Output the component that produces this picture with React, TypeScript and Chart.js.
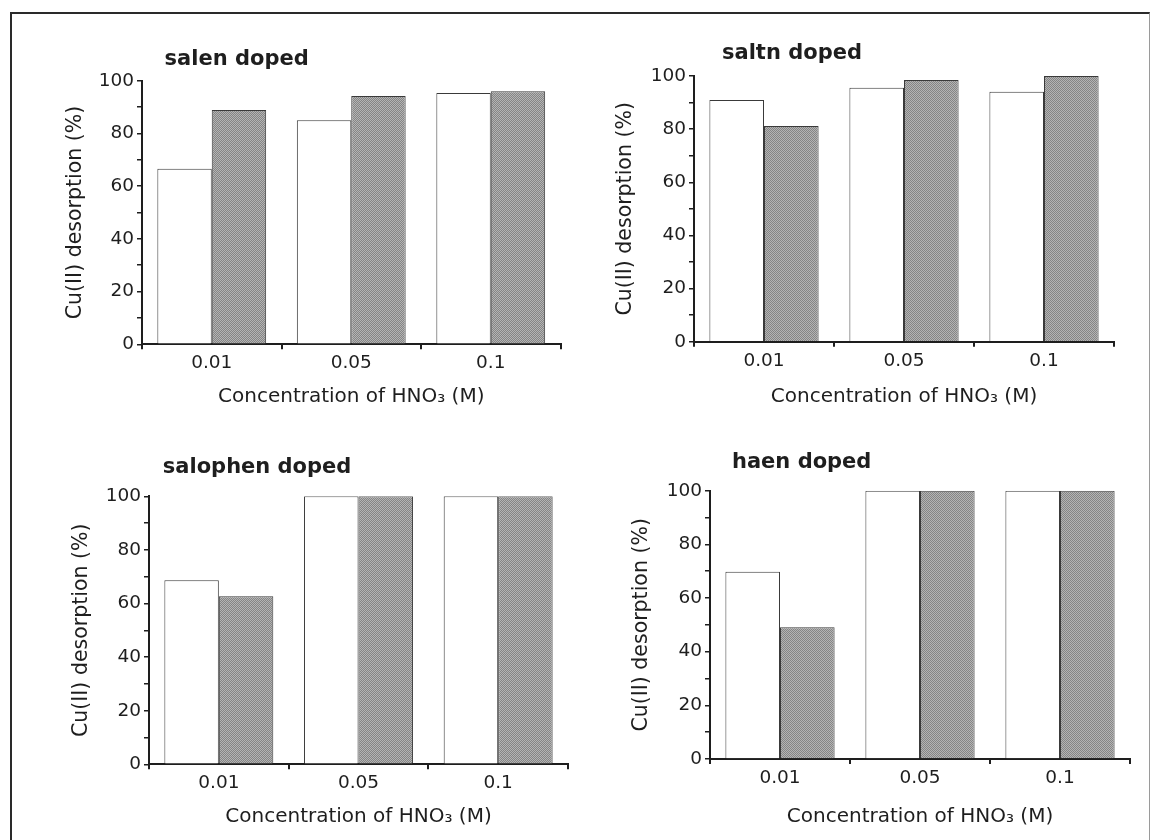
import React, { useEffect, useRef } from "react";
import { Chart, registerables } from "chart.js";

Chart.register(...registerables);

// ---- data ----
const categories = ["0.01", "0.05", "0.1"];

const salenOpen = [66.6, 85.0, 95.3];
const salenShaded = [88.9, 94.2, 96.0];

const saltnOpen = [91.0, 95.6, 94.1];
const saltnShaded = [81.2, 98.5, 100];

const salophenOpen = [68.7, 100, 100];
const salophenShaded = [62.7, 100, 100];

const haenOpen = [69.8, 100, 100];
const haenShaded = [49.1, 100, 100];

const yMin = 0;
const yMax = 100;
const yStep = 10;
const yLabelEvery = 20;

const xAxisTitle = "Concentration of HNO\u2083 (M)";
const yAxisTitle = "Cu(II) desorption (%)";

// ---- layout (absolute page coordinates) ----
type Panel = {
  title: string;
  open: number[];
  shaded: number[];
  box: { x: number; y: number; w: number; h: number };
  area: { l: number; r: number; t: number; b: number };
  yTitleX: number;
  xTitleY: number;
  titleX: number;
  titleBase: number;
};

const panels: Panel[] = [
  {
    title: "salen doped",
    open: salenOpen,
    shaded: salenShaded,
    box: { x: 0, y: 0, w: 577, h: 420 },
    area: { l: 142, r: 560.5, t: 80.7, b: 344.3 },
    yTitleX: 75.8,
    xTitleY: 396.8,
    titleX: 164.6,
    titleBase: 65,
  },
  {
    title: "saltn doped",
    open: saltnOpen,
    shaded: saltnShaded,
    box: { x: 577, y: 0, w: 578, h: 420 },
    area: { l: 694, r: 1114, t: 76, b: 341.7 },
    yTitleX: 626,
    xTitleY: 396.8,
    titleX: 722,
    titleBase: 59.3,
  },
  {
    title: "salophen doped",
    open: salophenOpen,
    shaded: salophenShaded,
    box: { x: 0, y: 420, w: 577, h: 420 },
    area: { l: 149, r: 568, t: 496.3, b: 764.3 },
    yTitleX: 82,
    xTitleY: 816.8,
    titleX: 162.8,
    titleBase: 473.3,
  },
  {
    title: "haen doped",
    open: haenOpen,
    shaded: haenShaded,
    box: { x: 577, y: 420, w: 578, h: 420 },
    area: { l: 710, r: 1130, t: 490.7, b: 759 },
    yTitleX: 641.6,
    xTitleY: 816.8,
    titleX: 732,
    titleBase: 468.3,
  },
];

const FONT = '"DejaVu Sans", Verdana, sans-serif';
const INK = "#1e1e1e";

const panelTitlePlugin = {
  id: "panelTitle",
  afterDraw(chart: any, _args: any, opts: any) {
    const { ctx, chartArea } = chart;
    ctx.save();
    ctx.font = `bold 21px ${FONT}`;
    ctx.fillStyle = INK;
    ctx.textBaseline = "alphabetic";
    ctx.textAlign = "left";
    ctx.fillText(opts.text, chartArea.left + opts.dx, chartArea.top + opts.dy);
    ctx.restore();
  },
};

function makeShadePattern(): CanvasPattern | string {
  const c = document.createElement("canvas");
  c.width = 2;
  c.height = 2;
  const g = c.getContext("2d");
  if (!g) return "#9c9c9c";
  g.fillStyle = "#858585";
  g.fillRect(0, 0, 2, 2);
  g.fillStyle = "#b4b4b4";
  g.fillRect(0, 0, 1, 1);
  g.fillRect(1, 1, 1, 1);
  const p = g.createPattern(c, "repeat");
  return p || "#9c9c9c";
}

function PanelChart({ p }: { p: Panel }) {
  const ref = useRef<HTMLCanvasElement | null>(null);

  useEffect(() => {
    if (!ref.current) return;
    const yTitleLine = 20.5 * 1.2;
    const xTitleLine = 20 * 1.2;
    const yScaleLeft = p.yTitleX - yTitleLine / 2;
    const yScaleWidth = p.area.l - yScaleLeft;
    const xScaleBottom = p.xTitleY + xTitleLine / 2;
    const xScaleHeight = xScaleBottom - p.area.b;

    const shade = makeShadePattern();

    const chart = new Chart(ref.current, {
      type: "bar",
      data: {
        labels: categories,
        datasets: [
          {
            data: p.open,
            backgroundColor: "#ffffff",
            borderColor: "#3a3a3a",
            borderWidth: 1,
            categoryPercentage: 0.78,
            barPercentage: 1,
          },
          {
            data: p.shaded,
            backgroundColor: shade as any,
            borderColor: "#3a3a3a",
            borderWidth: 1,
            categoryPercentage: 0.78,
            barPercentage: 1,
          },
        ],
      },
      options: {
        responsive: false,
        animation: false,
        devicePixelRatio: 1,
        layout: {
          padding: {
            left: yScaleLeft - p.box.x,
            top: p.area.t - p.box.y,
            right: p.box.x + p.box.w - p.area.r,
            bottom: p.box.y + p.box.h - xScaleBottom,
          },
        },
        plugins: {
          legend: { display: false },
          tooltip: { enabled: false },
          title: { display: false },
          panelTitle: {
            text: p.title,
            dx: p.titleX - p.area.l,
            dy: p.titleBase - p.area.t,
          },
        } as any,
        scales: {
          x: {
            type: "category",
            offset: true,
            grid: {
              display: true,
              offset: true,
              drawOnChartArea: false,
              drawTicks: true,
              tickLength: 5,
              color: INK,
              lineWidth: 2,
            },
            border: { display: true, color: INK, width: 2 },
            ticks: {
              color: INK,
              font: { family: FONT, size: 18.5 },
              padding: 3,
              maxRotation: 0,
            },
            title: {
              display: true,
              text: xAxisTitle,
              color: INK,
              font: { family: FONT, size: 20 },
              padding: 0,
            },
            afterFit(scale: any) {
              scale.height = xScaleHeight;
            },
          },
          y: {
            type: "linear",
            min: yMin,
            max: yMax,
            grid: {
              display: true,
              drawOnChartArea: false,
              drawTicks: true,
              tickLength: 5,
              color: INK,
              lineWidth: 1.5,
            },
            border: { display: true, color: INK, width: 2 },
            ticks: {
              stepSize: yStep,
              color: INK,
              font: { family: FONT, size: 18.5 },
              padding: 3,
              callback: (v: any) => (Number(v) % yLabelEvery === 0 ? String(v) : ""),
            },
            title: {
              display: true,
              text: yAxisTitle,
              color: INK,
              font: { family: FONT, size: 20.5 },
              padding: 0,
            },
            afterFit(scale: any) {
              scale.width = yScaleWidth;
            },
          },
        },
      },
      plugins: [panelTitlePlugin as any],
    });
    return () => chart.destroy();
  }, [p]);

  return (
    <canvas
      ref={ref}
      width={p.box.w}
      height={p.box.h}
      style={{
        position: "absolute",
        left: p.box.x,
        top: p.box.y,
        width: p.box.w,
        height: p.box.h,
      }}
    />
  );
}

export default function App() {
  return (
    <div
      style={{
        position: "fixed",
        left: 0,
        top: 0,
        width: 1155,
        height: 840,
        background: "#ffffff",
        overflow: "hidden",
      }}
    >
      <div
        style={{
          position: "absolute",
          left: 10,
          top: 12,
          width: 1140,
          height: 840,
          borderTop: "2px solid #2a2a2a",
          borderLeft: "2px solid #2a2a2a",
          borderRight: "1px solid #9a9a9a",
          boxSizing: "border-box",
        }}
      />
      {panels.map((p) => (
        <PanelChart key={p.title} p={p} />
      ))}
    </div>
  );
}
